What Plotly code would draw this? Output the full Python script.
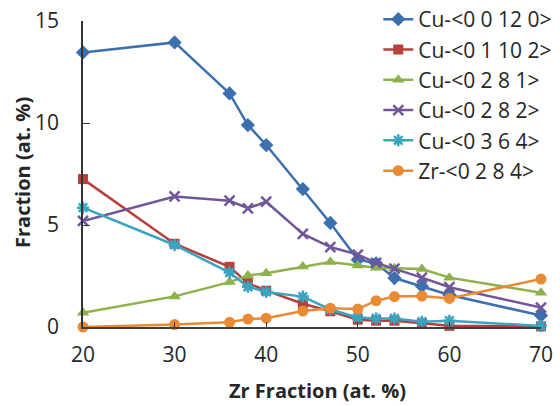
import plotly.graph_objects as go

zr = [20, 30, 36, 38, 40, 44, 47, 50, 52, 54, 57, 60, 70]

cu_0_0_12_0 = [13.46, 13.95, 11.45, 9.9, 8.92, 6.76, 5.1, 3.3, 3.12, 2.4, 2.0, 1.57, 0.56]
cu_0_1_10_2 = [7.25, 4.08, 2.95, 2.15, 1.78, 1.14, 0.77, 0.36, 0.31, 0.31, 0.18, 0.06, 0.03]
cu_0_2_8_1 = [0.7, 1.5, 2.2, 2.52, 2.63, 2.96, 3.19, 3.02, 2.9, 2.88, 2.84, 2.42, 1.68]
cu_0_2_8_2 = [5.2, 6.4, 6.19, 5.82, 6.14, 4.56, 3.92, 3.55, 3.14, 2.86, 2.42, 1.95, 0.95]
cu_0_3_6_4 = [5.85, 4.02, 2.67, 1.97, 1.72, 1.49, 0.86, 0.47, 0.42, 0.42, 0.26, 0.31, 0.05]
zr_0_2_8_4 = [0.0, 0.12, 0.23, 0.39, 0.43, 0.78, 0.92, 0.88, 1.29, 1.49, 1.52, 1.4, 2.35]

names = ["Cu-<0 0 12 0>", "Cu-<0 1 10 2>", "Cu-<0 2 8 1>",
         "Cu-<0 2 8 2>", "Cu-<0 3 6 4>", "Zr-<0 2 8 4>"]
x_title = "<b>Zr Fraction (at. %)</b>"
y_title = "<b>Fraction (at. %)</b>"
series = [cu_0_0_12_0, cu_0_1_10_2, cu_0_2_8_1, cu_0_2_8_2, cu_0_3_6_4, zr_0_2_8_4]
colors = ["#3B6FAD", "#B5403D", "#8DB24A", "#71579A", "#3AA5C0", "#E98A35"]
symbols = ["diamond", "square", "triangle-up", "x-thin-open", "asterisk-open", "circle"]
sizes = [11, 10, 11, 10, 10, 11]

fig = go.Figure()
for nm, ys, c, s, sz in zip(names, series, colors, symbols, sizes):
    marker = dict(symbol=s, size=sz, color=c)
    if s.endswith("-open"):
        marker["line"] = dict(color=c, width=2.5)
    else:
        marker["line"] = dict(color=c, width=0)
    fig.add_trace(go.Scatter(
        x=zr, y=ys, name=nm, mode="lines+markers",
        line=dict(color=c, width=2.5), marker=marker, cliponaxis=False,
    ))

font_family = "Open Sans, Liberation Sans, sans-serif"
# plot area in page coords: x 83..541, y 21..327 (paper area x 83..560, y 0..327)
fig.update_layout(
    width=560, height=406,
    margin=dict(l=83, r=0, t=0, b=79, autoexpand=False),
    paper_bgcolor="white", plot_bgcolor="white",
    font=dict(family=font_family, size=21, color="#262626"),
    legend=dict(x=0.619, y=1.003, xanchor="left", yanchor="top",
                bgcolor="rgba(0,0,0,0)", font=dict(size=21),
                itemwidth=30, tracegroupgap=0),
    xaxis=dict(range=[20, 70], tickvals=[20, 30, 40, 50, 60, 70],
               domain=[0, 458 / 477], automargin=False,
               ticks="inside", ticklen=5, tickcolor="#333",
               showline=True, linecolor="#404040", linewidth=1.5,
               showgrid=False, zeroline=False, ticklabelstandoff=8,
               ticklabeloverflow="allow"),
    yaxis=dict(range=[0, 15], tickvals=[0, 5, 10, 15],
               domain=[0, 306 / 327], automargin=False,
               ticks="inside", ticklen=7, tickcolor="#333",
               showline=True, linecolor="#333", linewidth=1.5,
               showgrid=False, zeroline=False, ticklabelstandoff=18,
               ticklabeloverflow="allow"),
    annotations=[
        dict(text=x_title, xref="paper", yref="paper",
             x=(317 - 83) / 477, y=(327 - 390) / 327,
             xanchor="center", yanchor="middle", showarrow=False,
             font=dict(size=20, color="#262626")),
        dict(text=y_title, xref="paper", yref="paper",
             x=(22 - 83) / 477, y=(327 - 172) / 327, textangle=-90,
             xanchor="center", yanchor="middle", showarrow=False,
             font=dict(size=20, color="#262626")),
    ],
)

fig.write_html("out.html", post_script="document.body.style.margin='0';",
               config={"displayModeBar": False})
